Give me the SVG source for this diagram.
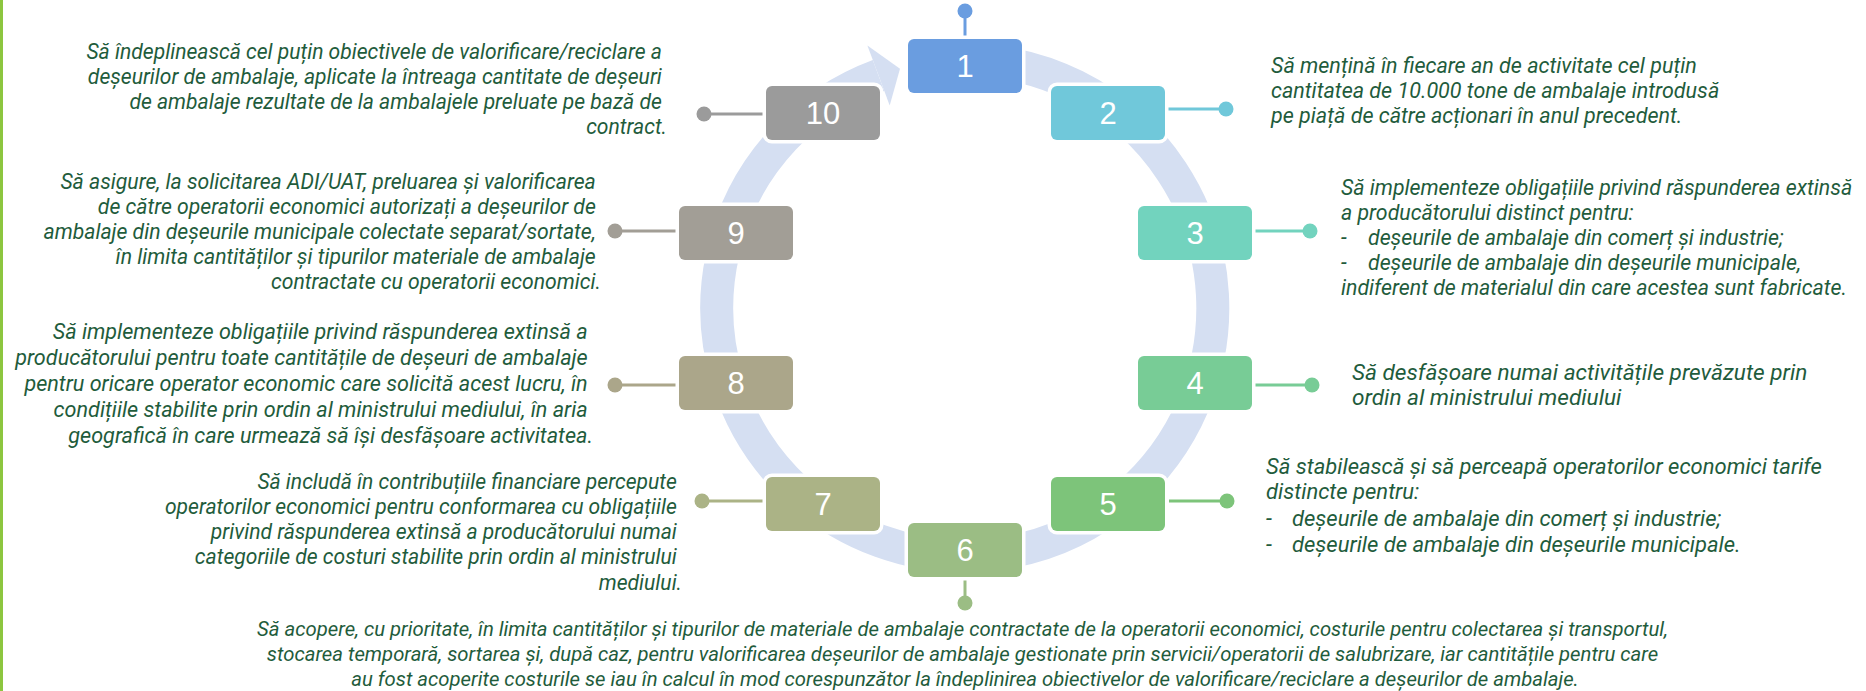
<svg xmlns="http://www.w3.org/2000/svg" width="1866" height="691" viewBox="0 0 1866 691">
<style>
.t{font-family:Roboto,"Liberation Sans",sans-serif;font-style:italic;font-size:21px;fill:#1f5c3c}
.r{text-anchor:end}
.c{text-anchor:middle}
.n{font-family:"Liberation Sans",Arial,sans-serif;font-size:31px;fill:#fff;text-anchor:middle}
.box{stroke:#fff;stroke-width:7;paint-order:stroke}
.pin{stroke-width:3;fill:none}
</style>
<rect x="0" y="0" width="1866" height="691" fill="#fff"/>
<rect x="0" y="0" width="3" height="691" fill="#8cc63f"/>
<g id="connectors">
<path d="M965,60 A248,248 0 1 1 878.5,75.5" fill="none" stroke="#d5dff2" stroke-width="33"/>
<polygon points="867.4,45.6 900,68.7 889.7,105.5" fill="#d5dff2"/>
<g class="pin">
<line x1="965" y1="36" x2="965" y2="11" stroke="#6a9de0"/>
<line x1="1168" y1="109" x2="1226" y2="109" stroke="#70c8da"/>
<line x1="1255" y1="231" x2="1310" y2="231" stroke="#72d3be"/>
<line x1="1255" y1="385" x2="1312" y2="385" stroke="#78cc96"/>
<line x1="1169" y1="501" x2="1227" y2="501" stroke="#7dc47a"/>
<line x1="965" y1="580" x2="965" y2="603" stroke="#9bbd84"/>
<line x1="763" y1="501" x2="702" y2="501" stroke="#abb386"/>
<line x1="676" y1="385" x2="615" y2="385" stroke="#aba68a"/>
<line x1="676" y1="231" x2="615" y2="231" stroke="#a29e96"/>
<line x1="763" y1="114" x2="704" y2="114" stroke="#9b9b9b"/>
</g>
<circle cx="965" cy="11" r="7.5" fill="#6a9de0"/>
<circle cx="1226" cy="109" r="7.5" fill="#70c8da"/>
<circle cx="1310" cy="231" r="7.5" fill="#72d3be"/>
<circle cx="1312" cy="385" r="7.5" fill="#78cc96"/>
<circle cx="1227" cy="501" r="7.5" fill="#7dc47a"/>
<circle cx="965" cy="603" r="7.5" fill="#9bbd84"/>
<circle cx="702" cy="501" r="7.5" fill="#abb386"/>
<circle cx="615" cy="385" r="7.5" fill="#aba68a"/>
<circle cx="615" cy="231" r="7.5" fill="#a29e96"/>
<circle cx="704" cy="114" r="7.5" fill="#9b9b9b"/>
</g>
<g id="node1"><rect class="box" x="908" y="39" width="114" height="54" rx="6" fill="#6a9de0"/><text class="n" x="965" y="77">1</text></g>
<g id="node2"><rect class="box" x="1051" y="86" width="114" height="54" rx="6" fill="#70c8da"/><text class="n" x="1108" y="124">2</text></g>
<g id="node3"><rect class="box" x="1138" y="206" width="114" height="54" rx="6" fill="#72d3be"/><text class="n" x="1195" y="244">3</text></g>
<g id="node4"><rect class="box" x="1138" y="356" width="114" height="54" rx="6" fill="#78cc96"/><text class="n" x="1195" y="394">4</text></g>
<g id="node5"><rect class="box" x="1051" y="477" width="114" height="54" rx="6" fill="#7dc47a"/><text class="n" x="1108" y="515">5</text></g>
<g id="node6"><rect class="box" x="908" y="523" width="114" height="54" rx="6" fill="#9bbd84"/><text class="n" x="965" y="561">6</text></g>
<g id="node7"><rect class="box" x="766" y="477" width="114" height="54" rx="6" fill="#abb386"/><text class="n" x="823" y="515">7</text></g>
<g id="node8"><rect class="box" x="679" y="356" width="114" height="54" rx="6" fill="#aba68a"/><text class="n" x="736" y="394">8</text></g>
<g id="node9"><rect class="box" x="679" y="206" width="114" height="54" rx="6" fill="#a29e96"/><text class="n" x="736" y="244">9</text></g>
<g id="node10"><rect class="box" x="766" y="86" width="114" height="54" rx="6" fill="#9b9b9b"/><text class="n" x="823" y="124">10</text></g>
<g id="text10"><text class="t r" style="font-size:21.1px">
<tspan x="667" y="59">Să îndeplinească cel puțin obiectivele de valorificare/reciclare a</tspan>
<tspan x="667" y="84">deșeurilor de ambalaje, aplicate la întreaga cantitate de deșeuri</tspan>
<tspan x="667" y="109">de ambalaje rezultate de la ambalajele preluate pe bază de</tspan>
<tspan x="667" y="134">contract.</tspan></text></g>
<g id="text2"><text class="t" style="font-size:21.5px">
<tspan x="1271" y="73">Să mențină în fiecare an de activitate cel puțin</tspan>
<tspan x="1271" y="98">cantitatea de 10.000 tone de ambalaje introdusă</tspan>
<tspan x="1271" y="123">pe piață de către acționari în anul precedent.</tspan></text></g>
<g id="text3"><text class="t" style="font-size:21.3px">
<tspan x="1341" y="195">Să implementeze obligațiile privind răspunderea extinsă</tspan>
<tspan x="1341" y="220">a producătorului distinct pentru:</tspan>
<tspan x="1341" y="245">-</tspan><tspan x="1368" y="245">deșeurile de ambalaje din comerț și industrie;</tspan>
<tspan x="1341" y="270">-</tspan><tspan x="1368" y="270">deșeurile de ambalaje din deșeurile municipale,</tspan>
<tspan x="1341" y="295">indiferent de materialul din care acestea sunt fabricate.</tspan></text></g>
<g id="text9"><text class="t r" style="font-size:21.2px">
<tspan x="601" y="189">Să asigure, la solicitarea ADI/UAT, preluarea și valorificarea</tspan>
<tspan x="601" y="214">de către operatorii economici autorizați a deșeurilor de</tspan>
<tspan x="601" y="239">ambalaje din deșeurile municipale colectate separat/sortate,</tspan>
<tspan x="601" y="264">în limita cantităților și tipurilor materiale de ambalaje</tspan>
<tspan x="601" y="289">contractate cu operatorii economici.</tspan></text></g>
<g id="text4"><text class="t" style="font-size:22.6px">
<tspan x="1352" y="380">Să desfășoare numai activitățile prevăzute prin</tspan>
<tspan x="1352" y="405">ordin al ministrului mediului</tspan></text></g>
<g id="text8"><text class="t r" style="font-size:21.6px">
<tspan x="593" y="339">Să implementeze obligațiile privind răspunderea extinsă a</tspan>
<tspan x="593" y="365">producătorului pentru toate cantitățile de deșeuri de ambalaje</tspan>
<tspan x="593" y="391">pentru oricare operator economic care solicită acest lucru, în</tspan>
<tspan x="593" y="417">condițiile stabilite prin ordin al ministrului mediului, în aria</tspan>
<tspan x="593" y="443">geografică în care urmează să își desfășoare activitatea.</tspan></text></g>
<g id="text5"><text class="t" style="font-size:22px">
<tspan x="1266" y="474">Să stabilească și să perceapă operatorilor economici tarife</tspan>
<tspan x="1266" y="499">distincte pentru:</tspan>
<tspan x="1266" y="526">-</tspan><tspan x="1292" y="526">deșeurile de ambalaje din comerț și industrie;</tspan>
<tspan x="1266" y="552">-</tspan><tspan x="1292" y="552">deșeurile de ambalaje din deșeurile municipale.</tspan></text></g>
<g id="text7"><text class="t r" style="font-size:21.1px">
<tspan x="682" y="489">Să includă în contribuțiile financiare percepute</tspan>
<tspan x="682" y="514">operatorilor economici pentru conformarea cu obligațiile</tspan>
<tspan x="682" y="539">privind răspunderea extinsă a producătorului numai</tspan>
<tspan x="682" y="564">categoriile de costuri stabilite prin ordin al ministrului</tspan>
<tspan x="682" y="590">mediului.</tspan></text></g>
<g id="text6"><text class="t c" style="font-size:20.3px">
<tspan x="965" y="636">Să acopere, cu prioritate, în limita cantităților și tipurilor de materiale de ambalaje contractate de la operatorii economici, costurile pentru colectarea și transportul,</tspan>
<tspan x="965" y="661">stocarea temporară, sortarea și, după caz, pentru valorificarea deșeurilor de ambalaje gestionate prin servicii/operatorii de salubrizare, iar cantitățile pentru care</tspan>
<tspan x="965" y="686">au fost acoperite costurile se iau în calcul în mod corespunzător la îndeplinirea obiectivelor de valorificare/reciclare a deșeurilor de ambalaje.</tspan></text></g>
</svg>
